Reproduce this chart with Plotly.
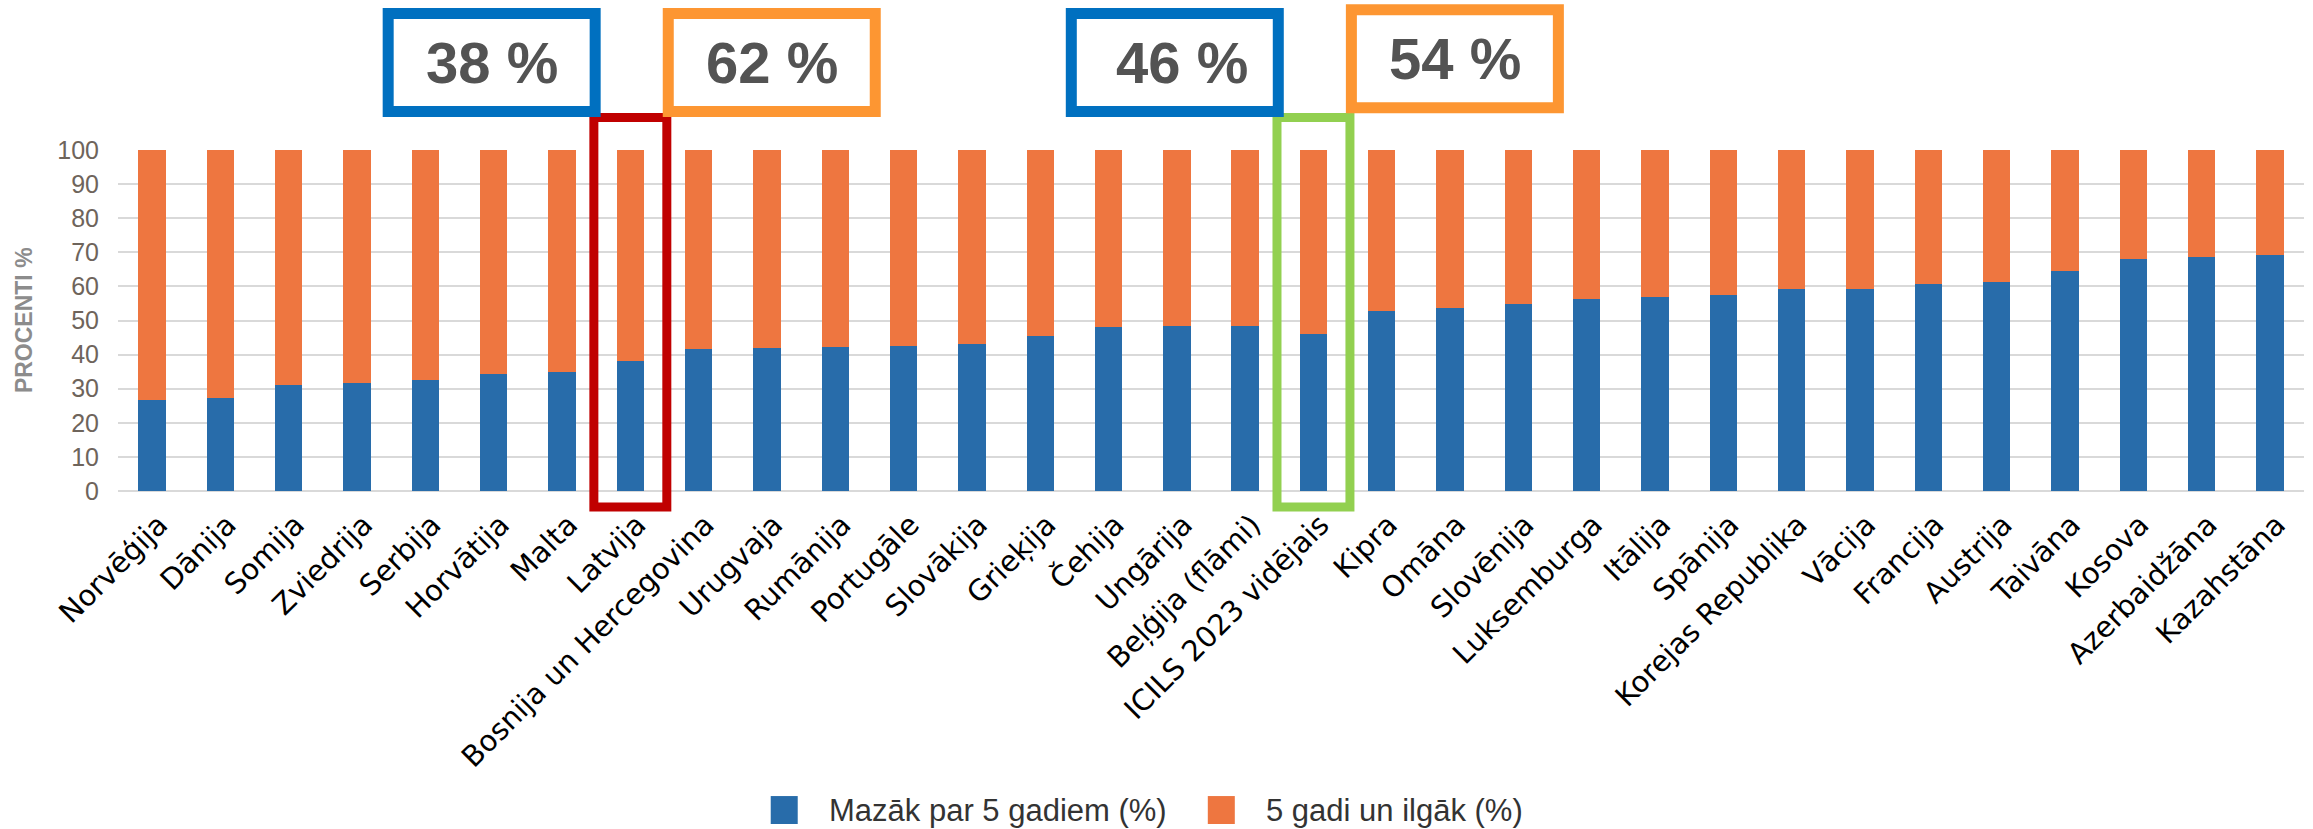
import plotly.graph_objects as go

# Share of students by length of computer use experience, per country
countries = [
    "Norvēģija", "Dānija", "Somija", "Zviedrija", "Serbija", "Horvātija", "Malta",
    "Latvija", "Bosnija un Hercegovina", "Urugvaja", "Rumānija", "Portugāle",
    "Slovākija", "Grieķija", "Čehija", "Ungārija", "Beļģija (flāmi)",
    "ICILS 2023 vidējais", "Kipra", "Omāna", "Slovēnija", "Luksemburga", "Itālija",
    "Spānija", "Korejas Republika", "Vācija", "Francija", "Austrija", "Taivāna",
    "Kosova", "Azerbaidžāna", "Kazahstāna",
]
less_than_5 = [
    26.8, 27.3, 31.0, 31.7, 32.6, 34.3, 34.8, 38, 41.6, 42.0, 42.1, 42.4,
    43.1, 45.4, 48.1, 48.3, 48.5, 46, 52.7, 53.7, 54.8, 56.4, 57.0, 57.6,
    59.2, 59.2, 60.6, 61.3, 64.4, 68.1, 68.7, 69.2,
]
five_or_more = [
    73.2, 72.7, 69.0, 68.3, 67.4, 65.7, 65.2, 62, 58.4, 58.0, 57.9, 57.6,
    56.9, 54.6, 51.9, 51.7, 51.5, 54, 47.3, 46.3, 45.2, 43.6, 43.0, 42.4,
    40.8, 40.8, 39.4, 38.7, 35.6, 31.9, 31.3, 30.8,
]
series_names = ["Mazāk par 5 gadiem (%)", "5 gadi un ilgāk (%)"]
y_ticks = [0, 10, 20, 30, 40, 50, 60, 70, 80, 90, 100]
y_title = "PROCENTI %"

# Highlighted bars: name -> frame colour
highlights = [("Latvija", "#C00000"), ("ICILS 2023 vidējais", "#92D050")]

BLUE = "#286CAA"
ORANGE = "#EE7640"
BOX_BLUE = "#0070C0"
BOX_ORANGE = "#FD9632"

W, H = 2313, 829
ML, MR, MT, MB = 118.4, 9, 150, 337.5
PW = W - ML - MR
PH = H - MT - MB
N = len(countries)


def px_x(px):
    return (px - ML) / PW


def px_y(py):
    return (H - MB - py) / PH


def cat_x(v):
    # paper x of a category position (axis range is [-0.5, N-0.5])
    return (v + 0.5) / N


def val_y(v):
    return v / 100.0


fig = go.Figure()
fig.add_trace(go.Bar(x=countries, y=less_than_5, name=series_names[0],
                     marker=dict(color=BLUE, line=dict(width=0)), width=0.4,
                     showlegend=False))
fig.add_trace(go.Bar(x=countries, y=five_or_more, name=series_names[1],
                     marker=dict(color=ORANGE, line=dict(width=0)), width=0.4,
                     showlegend=False))

shapes = []
annotations = []

for name, frame_color in highlights:
    i = countries.index(name)
    # frame around the highlighted bar
    shapes.append(dict(type="rect", xref="paper", yref="paper",
                       x0=cat_x(i - 0.534), x1=cat_x(i + 0.534),
                       y0=val_y(-4.7), y1=val_y(109.5),
                       line=dict(color=frame_color, width=9), layer="above"))
    # value boxes on either side of the frame
    for offset, color, value in ((-2.03, BOX_BLUE, less_than_5[i]),
                                 (2.07, BOX_ORANGE, five_or_more[i])):
        cx = i + offset
        top = 140 if color == BOX_BLUE or name == "Latvija" else 141.1
        bottom = top - 28.7
        shapes.append(dict(type="rect", xref="paper", yref="paper",
                           x0=cat_x(cx - 1.515), x1=cat_x(cx + 1.515),
                           y0=val_y(bottom), y1=val_y(top),
                           fillcolor="white",
                           line=dict(color=color, width=11), layer="above"))
        annotations.append(dict(xref="paper", yref="paper",
                                x=cat_x(cx + (0.1 if name != "Latvija" and color == BOX_BLUE else 0)),
                                y=val_y((top + bottom) / 2),
                                text=f"<b>{value:g} %</b>", showarrow=False,
                                xanchor="center", yanchor="middle",
                                font=dict(family="Liberation Sans", size=58,
                                          color="#535353")))

# y-axis title
annotations.append(dict(xref="paper", yref="paper", x=px_x(24), y=0.5,
                        text=f"<b>{y_title}</b>", textangle=-90, showarrow=False,
                        xanchor="center", yanchor="middle",
                        font=dict(family="Liberation Sans", size=23, color="#8C8C8C")))

# legend drawn as swatches + labels
legend_items = [(771, 827, BLUE, series_names[0]), (1208, 1264, ORANGE, series_names[1])]
for sx, tx, color, label in legend_items:
    shapes.append(dict(type="rect", xref="paper", yref="paper",
                       x0=px_x(sx), x1=px_x(sx + 27), y0=px_y(825), y1=px_y(797),
                       fillcolor=color, line=dict(width=0)))
    annotations.append(dict(xref="paper", yref="paper", x=px_x(tx), y=px_y(811),
                            text=label, showarrow=False, xanchor="left",
                            yanchor="middle",
                            font=dict(family="Liberation Sans", size=31, color="#333333")))

fig.update_layout(
    width=W, height=H, autosize=False,
    margin=dict(l=ML, r=MR, t=MT, b=MB, pad=0),
    barmode="stack",
    plot_bgcolor="white", paper_bgcolor="white",
    shapes=shapes, annotations=annotations,
    showlegend=False,
    xaxis=dict(range=[-0.5, N - 0.5], tickangle=-45, showgrid=False,
               showline=False, ticks="", zeroline=False, ticklabelstandoff=10,
               ticklabelshift=7,
               tickfont=dict(family="DejaVu Sans", size=29, color="#000000")),
    yaxis=dict(range=[0, 100], tickvals=y_ticks, showgrid=True,
               gridcolor="#D9D9D9", gridwidth=2, zeroline=True,
               zerolinecolor="#D9D9D9", zerolinewidth=2, showline=False,
               ticks="", ticklabelstandoff=18,
               tickfont=dict(family="Liberation Sans", size=25, color="#6E645B")),
)

fig.write_html("out.html")
